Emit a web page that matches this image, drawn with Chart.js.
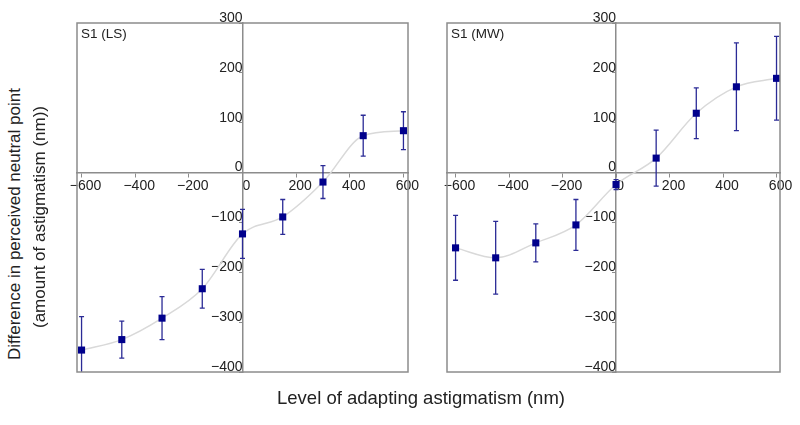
<!DOCTYPE html>
<html lang="en">
<head>
    <meta charset="UTF-8" />
    <title>Astigmatism adaptation</title>
    <script src="https://cdn.jsdelivr.net/npm/chart.js"></script>
    <style>
        body { margin: 0; background: #fff; font-family: 'Liberation Sans', Arial, sans-serif; }
        #wrap { position: relative; width: 800px; height: 425px; overflow: hidden; }
        canvas { position: absolute; }
        .lbl { position: absolute; font-size: 13.5px; color: #222; }
        .ytitle { position: absolute; font-size: 17px; color: #222; transform: rotate(-90deg); transform-origin: center; white-space: nowrap; text-align: center; }
        .xtitle { position: absolute; font-size: 18.5px; color: #222; white-space: nowrap; width: 400px; text-align: center; }
    </style>
</head>
<body>
<div id="wrap">
    <canvas id="lsChart" width="400" height="390" style="left:40px; top:0px;"></canvas>
    <canvas id="mwChart" width="380" height="390" style="left:420px; top:0px;"></canvas>
    <div class="lbl" style="left:81px; top:26px;">S1 (LS)</div>
    <div class="lbl" style="left:451px; top:26px;">S1 (MW)</div>
    <div class="ytitle" style="left:-135px; top:214px; width:300px;">Difference in perceived neutral point</div>
    <div class="ytitle" style="left:-110px; top:207px; width:300px;">(amount of astigmatism (nm))</div>
    <div class="xtitle" style="left:221px; top:387px;">Level of adapting astigmatism (nm)</div>
</div>
<script>
    // adapting levels (nm)
    const levels = [-600, -450, -300, -150, 0, 150, 300, 450, 600];
    // S1 (LS)
    const lsMean = [-356, -335, -292, -233, -123, -89, -19, 74, 84];
    const lsErr = [67, 37, 43, 39, 49, 35, 33, 41, 38];
    // S1 (MW)
    const mwMean = [-151, -171, -141, -105, -24, 29, 119, 172, 189];
    const mwErr = [65, 73, 38, 51, 10, 56, 51, 88, 84];

    const xTicks = [-600, -400, -200, 0, 200, 400, 600];
    const yTicks = [-400, -300, -200, -100, 0, 100, 200, 300];

    const markerColor = '#00008c';
    const errColor = '#2b2b96';
    const frameColor = '#8c8c8c';

    const fmt = v => String(v).replace('-', '\u2212');

    // error bars drawn after the grey curve, before the square markers
    const errorBars = {
        id: 'errorBars',
        afterDatasetDraw(chart, args) {
            if (args.index !== 0) return;
            const errs = chart.options.plugins.errorBars.errors;
            const means = chart.data.datasets[1].data;
            const xs = chart.scales.x, ys = chart.scales.y;
            const ca = chart.chartArea;
            const ctx = chart.ctx;
            ctx.save();
            ctx.beginPath();
            ctx.rect(ca.left, ca.top, ca.right - ca.left, ca.bottom - ca.top);
            ctx.clip();
            ctx.strokeStyle = errColor;
            ctx.lineWidth = 1.3;
            means.forEach((p, i) => {
                const px = xs.getPixelForValue(p.x);
                const top = ys.getPixelForValue(p.y + errs[i]);
                const bot = ys.getPixelForValue(p.y - errs[i]);
                ctx.beginPath();
                ctx.moveTo(px, top); ctx.lineTo(px, bot);
                ctx.moveTo(px - 2.5, top); ctx.lineTo(px + 2.5, top);
                ctx.moveTo(px - 2.5, bot); ctx.lineTo(px + 2.5, bot);
                ctx.stroke();
            });
            ctx.restore();
        },
        afterDraw(chart) {
            const ca = chart.chartArea;
            const ctx = chart.ctx;
            ctx.save();
            ctx.strokeStyle = frameColor;
            ctx.lineWidth = 1.5;
            ctx.strokeRect(ca.left, ca.top, ca.right - ca.left, ca.bottom - ca.top);
            ctx.restore();
        }
    };

    function tickOpts(offset) {
        return {
            color: '#222',
            font: { family: "'Liberation Sans', Arial, sans-serif", size: 14 },
            autoSkip: false,
            maxRotation: 0,
            padding: 1,
            labelOffset: offset,
            callback: v => fmt(v)
        };
    }

    function makePanel(id, means, errs, xMin, xMax, pad) {
        const pts = levels.map((x, i) => ({ x: x, y: means[i] }));
        new Chart(document.getElementById(id), {
            type: 'scatter',
            data: {
                datasets: [
                    {
                        data: pts,
                        showLine: true,
                        borderColor: '#d9d9d9',
                        borderWidth: 1.5,
                        cubicInterpolationMode: 'monotone',
                        pointRadius: 0,
                        order: 2
                    },
                    {
                        data: pts,
                        showLine: false,
                        pointStyle: 'rect',
                        pointRadius: 5,
                        backgroundColor: markerColor,
                        borderColor: markerColor,
                        borderWidth: 0,
                        order: 1
                    }
                ]
            },
            options: {
                responsive: false,
                animation: false,
                layout: { padding: pad, autoPadding: false },
                plugins: {
                    legend: { display: false },
                    tooltip: { enabled: false },
                    errorBars: { errors: errs }
                },
                scales: {
                    x: {
                        type: 'linear',
                        position: { y: 0 },
                        min: xMin,
                        max: xMax,
                        afterBuildTicks: s => { s.ticks = xTicks.map(v => ({ value: v })); },
                        grid: { drawOnChartArea: false, color: frameColor, tickLength: 4 },
                        border: { color: frameColor, width: 1.5 },
                        ticks: tickOpts(4)
                    },
                    y: {
                        type: 'linear',
                        position: { x: 0 },
                        min: -400,
                        max: 300,
                        afterBuildTicks: s => { s.ticks = yTicks.map(v => ({ value: v })); },
                        grid: { drawOnChartArea: false, color: frameColor, tickLength: 3 },
                        border: { color: frameColor, width: 1.5 },
                        ticks: tickOpts(-5)
                    }
                }
            },
            plugins: [errorBars]
        });
    }

    makePanel('lsChart', lsMean, lsErr, -617, 617, { left: 37, right: 32, top: 23, bottom: 18 });
    makePanel('mwChart', mwMean, mwErr, -632, 613, { left: 27, right: 20, top: 23, bottom: 18 });
</script>
</body>
</html>
